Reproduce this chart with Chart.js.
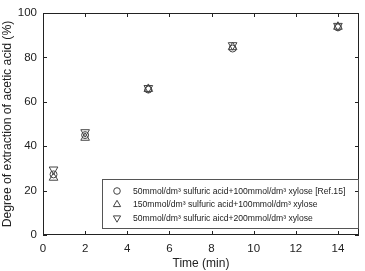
<!DOCTYPE html>
<html>
<head>
<meta charset="utf-8">
<script src="https://cdn.jsdelivr.net/npm/chart.js@4"></script>
<style>
  html, body { margin: 0; padding: 0; background: #fff; }
  #wrap { width: 365px; height: 271px; }
</style>
</head>
<body>
<div id="wrap"><canvas id="chart" width="365" height="271"></canvas></div>
<script>
'use strict';

// time points (min)
const times = [0.5, 2, 5, 9, 14];

// degree of extraction of acetic acid (%)
const ref15 = [27.3, 45.0, 65.5, 84.0, 93.5];
const acid150 = [25.8, 43.8, 65.8, 84.6, 93.8];
const xylose200 = [29.5, 46.3, 66.2, 85.5, 94.2];

const seriesLabels = [
    '50mmol/dm\u00b3 sulfuric acid+100mmol/dm\u00b3 xylose [Ref.15]',
    '150mmol/dm\u00b3 sulfuric acid+100mmol/dm\u00b3 xylose',
    '50mmol/dm\u00b3 sulfuric aicd+200mmol/dm\u00b3 xylose'
];

const xTicks = [0, 2, 4, 6, 8, 10, 12, 14];
const yTicks = [0, 20, 40, 60, 80, 100];

const ink = '#222';
const markColor = '#444';
const fontFamily = '"Liberation Sans", Arial, sans-serif';

function toPoints(values) {
    return times.map((t, i) => ({ x: t, y: values[i] }));
}

function makeSet(label, values, style, rotation, radius) {
    return {
        label: label,
        data: toPoints(values),
        showLine: false,
        pointStyle: style,
        rotation: rotation,
        pointRadius: radius,
        pointHoverRadius: radius,
        pointBorderWidth: 1,
        borderColor: markColor,
        backgroundColor: 'rgba(0,0,0,0)'
    };
}

// frame, inward ticks and boxed legend
const framePlugin = {
    id: 'frame',
    afterDraw(chart) {
        const ctx = chart.ctx;
        const a = chart.chartArea;
        const xs = chart.scales.x;
        const ys = chart.scales.y;
        ctx.save();
        ctx.strokeStyle = ink;
        ctx.lineWidth = 1;
        ctx.strokeRect(a.left + 0.5, a.top + 0.5, a.right - a.left - 1, a.bottom - a.top - 1);

        const len = 4;
        ctx.beginPath();
        xTicks.forEach(v => {
            const px = Math.round(xs.getPixelForValue(v)) + 0.5;
            ctx.moveTo(px, a.bottom);
            ctx.lineTo(px, a.bottom - len);
            ctx.moveTo(px, a.top);
            ctx.lineTo(px, a.top + len);
        });
        yTicks.forEach(v => {
            const py = Math.round(ys.getPixelForValue(v)) + 0.5;
            ctx.moveTo(a.left, py);
            ctx.lineTo(a.left + len, py);
            ctx.moveTo(a.right, py);
            ctx.lineTo(a.right - len, py);
        });
        ctx.stroke();

        // legend box
        const bx = 102, by = 179, bw = a.right - 102, bh = 49;
        ctx.strokeStyle = '#555';
        ctx.strokeRect(bx + 0.5, by + 0.5, bw - 1, bh);
        ctx.font = '8.6px ' + fontFamily;
        ctx.textBaseline = 'middle';
        chart.data.datasets.forEach((ds, i) => {
            const y = by + 12 + i * 13.5;
            ctx.strokeStyle = markColor;
            ctx.fillStyle = 'rgba(0,0,0,0)';
            Chart.helpers.drawPoint(ctx, {
                pointStyle: ds.pointStyle,
                rotation: ds.rotation,
                radius: ds.pointStyle === 'circle' ? 3.3 : 4.2,
                borderWidth: 1
            }, 117, y);
            ctx.fillStyle = ink;
            ctx.fillText(ds.label, 133, y + 0.5);
        });
        ctx.restore();
    }
};

const ctx = document.getElementById('chart').getContext('2d');
new Chart(ctx, {
    type: 'scatter',
    data: {
        datasets: [
            makeSet(seriesLabels[0], ref15, 'circle', 0, 3.5),
            makeSet(seriesLabels[1], acid150, 'triangle', 0, 5),
            makeSet(seriesLabels[2], xylose200, 'triangle', 180, 5)
        ]
    },
    options: {
        responsive: false,
        animation: false,
        layout: { padding: { top: 13, right: 4, left: 0, bottom: 0 } },
        plugins: {
            legend: { display: false },
            tooltip: { enabled: false }
        },
        scales: {
            x: {
                type: 'linear',
                min: 0,
                max: 15,
                afterBuildTicks: s => { s.ticks = xTicks.map(v => ({ value: v })); },
                afterFit: s => { s.height = 36; },
                grid: { display: false, drawTicks: false, tickLength: 0 },
                border: { display: false },
                ticks: {
                    color: ink,
                    padding: 7,
                    font: { family: fontFamily, size: 11.5 }
                },
                title: {
                    display: true,
                    text: 'Time (min)',
                    color: ink,
                    padding: { top: 8, bottom: 0 },
                    font: { family: fontFamily, size: 12 }
                }
            },
            y: {
                min: 0,
                max: 100,
                afterBuildTicks: s => { s.ticks = yTicks.map(v => ({ value: v })); },
                afterFit: s => { s.width = 43; },
                grid: { display: false, drawTicks: false, tickLength: 0 },
                border: { display: false },
                ticks: {
                    color: ink,
                    padding: 6,
                    font: { family: fontFamily, size: 11.5 }
                },
                title: {
                    display: true,
                    text: 'Degree of extraction of acetic acid (%)',
                    color: ink,
                    padding: { top: 0, bottom: 1 },
                    font: { family: fontFamily, size: 12.2 }
                }
            }
        }
    },
    plugins: [framePlugin]
});
</script>
</body>
</html>
